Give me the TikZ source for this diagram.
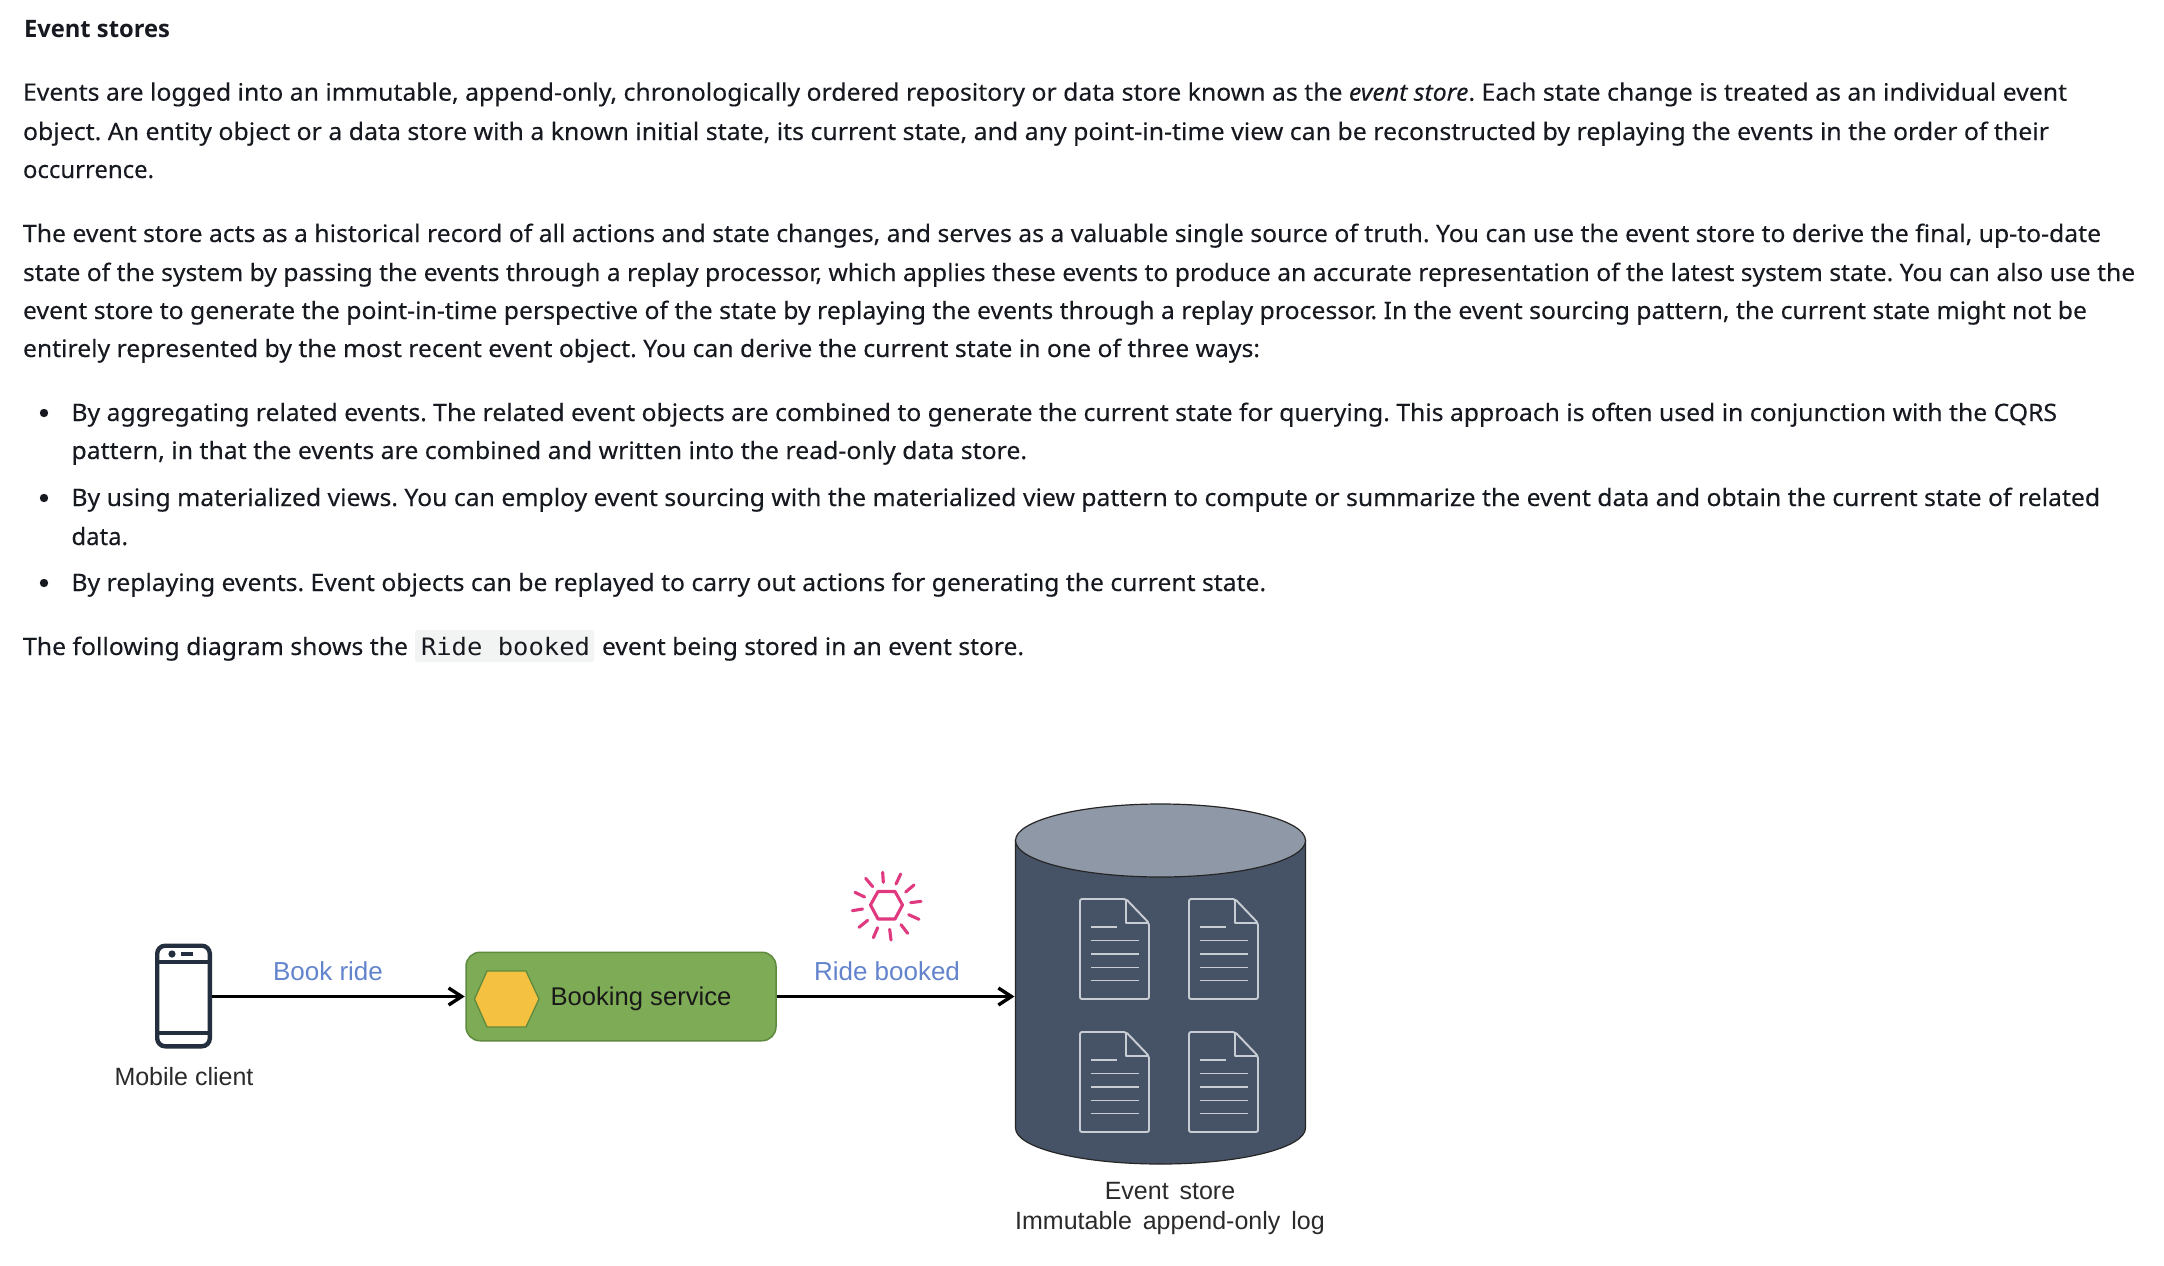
\documentclass[tikz,border=0pt]{standalone}
\usepackage{graphicx}
\usepackage{fontspec}
\setmainfont[FakeBold=0.15]{Noto Sans}
\newfontfamily\headfont{Open Sans}
\newfontfamily\diagfont{Liberation Sans}
\newfontfamily\codefont{DejaVu Sans Mono}
\usetikzlibrary{arrows.meta,shapes.geometric}
\definecolor{inktext}{HTML}{16191F}
\definecolor{codebg}{HTML}{F2F3F3}
\definecolor{labelblue}{HTML}{6384CC}
\definecolor{diaggrey}{HTML}{2A2A2A}
\definecolor{svcgreen}{HTML}{7EAB55}
\definecolor{svcedge}{HTML}{5F8A3E}
\definecolor{hexfill}{HTML}{F4C141}
\definecolor{storebody}{HTML}{465366}
\definecolor{storetop}{HTML}{8F98A6}
\definecolor{docline}{HTML}{C8CDD4}
\definecolor{phoneink}{HTML}{232F3E}
\definecolor{sunpink}{HTML}{E0397F}
\tikzset{
  textline/.style={anchor=base west,inner sep=0pt,outer sep=0pt,text=inktext,font=\fontsize{24}{28}\selectfont\frenchspacing},
  diaglabel/.style={inner sep=0pt,outer sep=0pt,text=diaggrey,font=\diagfont\fontsize{25}{31}\selectfont},
  flowlabel/.style={diaglabel,text=labelblue,font=\diagfont\fontsize{26}{31}\selectfont},
  flow/.style={draw=black,line width=3pt,-{Straight Barb[length=13pt,width=17pt,line width=3.4pt]},shorten >=0.5pt},
  docstroke/.style={draw=docline,line width=1.9pt,line join=round},
  ray/.style={draw=sunpink,line width=3.1pt,line cap=round},
}
\newcommand{\tline}[5]{\node[textline] (#1) at (#2,#3) {\resizebox{\dimexpr #4pt-#2pt\relax}{\height}{#5}};}
\newcommand{\docicon}[2]{%
  \begin{scope}[shift={(#1,#2)}]
    \draw[docstroke,rounded corners=2pt] (0,0) -- (46,0) -- (69,24) -- (69,100) -- (0,100) -- cycle;
    \draw[docstroke] (46,0) -- (46,24) -- (69,24);
    \draw[docstroke] (11,28) -- (37,28);
    \foreach \yy in {41.5,55,68.5,81.5} \draw[docstroke] (11,\yy) -- (59,\yy);
  \end{scope}}
\begin{document}
\begin{tikzpicture}[x=1pt,y=-1pt]
\useasboundingbox[fill=white] (0,0) rectangle (2164,1266);

\tline{head}{24}{37}{170}{\headfont\bfseries Event stores}
\tline{pa}{23}{100.7}{2067}{Events are logged into an immutable, append-only, chronologically ordered repository or data store known as the \textit{event store}. Each state change is treated as an individual event}
\tline{pb}{23}{140}{2049}{object. An entity object or a data store with a known initial state, its current state, and any point-in-time view can be reconstructed by replaying the events in the order of their}
\tline{pc}{23}{178}{154}{occurrence.}
\tline{qa}{23}{242}{2101}{The event store acts as a historical record of all actions and state changes, and serves as a valuable single source of truth. You can use the event store to derive the final, up-to-date}
\tline{qb}{23}{281}{2135}{state of the system by passing the events through a replay processor, which applies these events to produce an accurate representation of the latest system state. You can also use the}
\tline{qc}{23}{319}{2087}{event store to generate the point-in-time perspective of the state by replaying the events through a replay processor. In the event sourcing pattern, the current state might not be}
\tline{qd}{23}{357}{1260}{entirely represented by the most recent event object. You can derive the current state in one of three ways:}

\fill[inktext] (44,413) circle (4.2);
\fill[inktext] (44,498) circle (4.2);
\fill[inktext] (44,583) circle (4.2);
\tline{ba}{71.5}{421}{2057}{By aggregating related events. The related event objects are combined to generate the current state for querying. This approach is often used in conjunction with the CQRS}
\tline{bb}{71.5}{459}{1027}{pattern, in that the events are combined and written into the read-only data store.}
\tline{bc}{71.5}{506}{2100}{By using materialized views. You can employ event sourcing with the materialized view pattern to compute or summarize the event data and obtain the current state of related}
\tline{bd}{71.5}{545}{128}{data.}
\tline{be}{71.5}{591}{1266}{By replaying events. Event objects can be replayed to carry out actions for generating the current state.}

\tline{la}{23}{655}{408}{The following diagram shows the}
\fill[codebg,rounded corners=3pt] (415,630) rectangle (594,662);
\tline{lb}{421}{655}{590}{\codefont Ride booked}
\tline{lc}{602}{655}{1024}{event being stored in an event store.}

% phone
\node[draw=phoneink,line width=4.4pt,rounded corners=8pt,minimum width=52.6pt,minimum height=100.6pt,inner sep=0pt,outer sep=2.2pt] (phone) at (183.5,996) {};
\draw[phoneink,line width=4pt] (157,962) -- (210,962) (157,1033) -- (210,1033);
\fill[phoneink] (172,954) circle (3.6);
\draw[phoneink,line width=4pt] (181,954) -- (193,954);
\node[diaglabel] (mobile) at (184,1077) {Mobile client};

% service
\node[draw=svcedge,fill=svcgreen,line width=1.5pt,rounded corners=14pt,minimum width=310pt,minimum height=88.5pt,inner sep=0pt,outer sep=0.75pt] (svc) at (621,996.5) {};
\draw[draw=svcedge,fill=hexfill,line width=1.3pt] (474.5,999) -- (487,971) -- (526,971) -- (539,999) -- (526,1027) -- (487,1027) -- cycle;
\node[diaglabel,text=black!90,font=\diagfont\fontsize{25.6}{31}\selectfont] (svctext) at (641,999) {Booking service};

% store
\node[inner sep=0pt,outer sep=0pt,minimum width=291pt,minimum height=360pt] (store) at (1160.5,984) {};
\draw[draw=black!85,fill=storebody,line width=1.2pt] (1015.5,840) -- (1015.5,1128) arc[start angle=180,end angle=360,x radius=145,y radius=-36] -- (1305.5,840) -- cycle;
\draw[draw=black!85,fill=storetop,line width=1.2pt] (1160.5,840.5) ellipse[x radius=145,y radius=36.5];
\docicon{1080}{899}
\docicon{1189}{899}
\docicon{1080}{1032}
\docicon{1189}{1032}
\node[diaglabel,align=center] (storetext) at (1170,1191) {Event\hspace{4pt} store};
\node[diaglabel] (storesub) at (1170,1223.5) {Immutable\hspace{4pt} append-only\hspace{4pt} log};

% flows
\draw[flow] (phone.east |- svc.west) -- (svc.west);
\draw[flow] (svc.east) -- (svc.east -| store.west);
\node[flowlabel] (bookride) at (328,971) {Book ride};
\node[flowlabel] (ridebooked) at (887,971) {Ride booked};

% event icon
\draw[draw=sunpink,line width=3.1pt,line join=round] (870.5,905) -- (878,891.5) -- (895,891.5) -- (902.5,905) -- (895,919) -- (878,919) -- cycle;
\foreach \xa/\ya/\xb/\yb in {128/37/130/67,182/42/168/72,222/75/197/96,243/124/212/128,237/178/206/164,203/220/183/194,153/240/149/208,100/233/113/203,57/202/83/181,37/152/68/147,45/97/74/111,77/55/98/80}
  \draw[ray] ({840+\xa/3},{860+\ya/3}) -- ({840+\xb/3},{860+\yb/3});
\end{tikzpicture}
\end{document}
